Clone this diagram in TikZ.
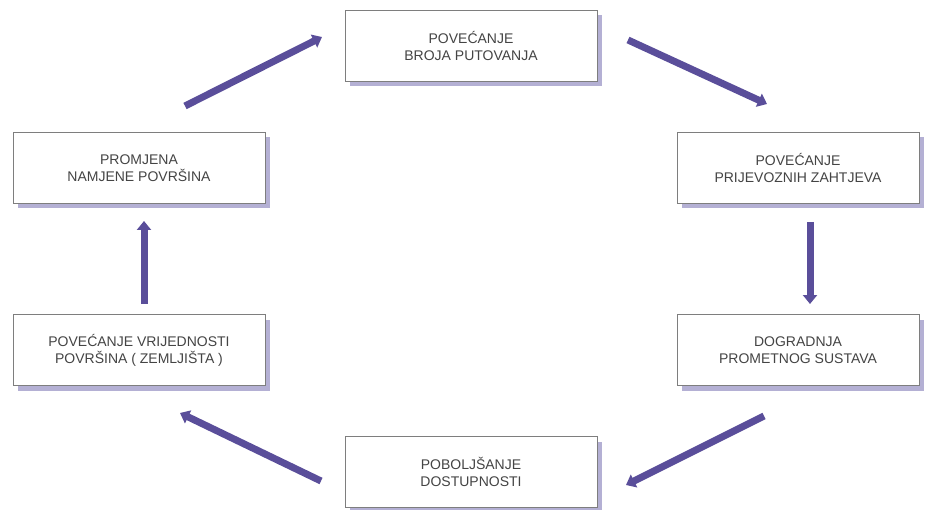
\documentclass[tikz,border=0pt]{standalone}
\usepackage{fontspec}
\setmainfont{Liberation Sans}
\usetikzlibrary{arrows.meta,shadows}
\definecolor{arrowc}{HTML}{5A4E9A}
\definecolor{shadowc}{HTML}{B4B0D4}
\definecolor{borderc}{HTML}{7E7E7E}
\definecolor{textc}{HTML}{444444}
\begin{document}
\begin{tikzpicture}[x=1pt,y=-1pt,
  box/.style={draw=borderc, line width=1pt, fill=white, minimum height=71pt,
    align=center, text=textc, font=\fontsize{14}{17}\selectfont,
    drop shadow={shadow xshift=5pt, shadow yshift=-5pt, fill=shadowc, opacity=1}},
  flow/.style={draw=arrowc, line width=7pt, -{Triangle[length=9pt,width=14pt]}}]
\useasboundingbox (0,0) rectangle (925,510);
\fill[white] (0,0) rectangle (925,510);
\node[box, minimum width=252pt] (top) at (471,46) {POVEĆANJE\\BROJA PUTOVANJA};
\node[box, minimum width=252pt] (lt) at (139,168) {PROMJENA\\NAMJENE POVRŠINA};
\node[box, minimum width=242pt] (rt) at (798,168) {POVEĆANJE\\PRIJEVOZNIH ZAHTJEVA};
\node[box, minimum width=252pt] (lb) at (139,350) {POVEĆANJE VRIJEDNOSTI\\POVRŠINA ( ZEMLJIŠTA )};
\node[box, minimum width=242pt] (rb) at (798,350) {DOGRADNJA\\PROMETNOG SUSTAVA};
\node[box, minimum width=252pt] (bot) at (471,472) {POBOLJŠANJE\\DOSTUPNOSTI};
\coordinate (a1s) at (185,106); \coordinate (a1e) at (322,37);
\coordinate (a2s) at (628,40); \coordinate (a2e) at (767,104);
\coordinate (a3s) at (810,222); \coordinate (a3e) at (810,304);
\coordinate (a4s) at (764,416); \coordinate (a4e) at (626,485);
\coordinate (a5s) at (321,481); \coordinate (a5e) at (180,413);
\coordinate (a6s) at (144,304); \coordinate (a6e) at (144,221);
\draw[flow] (a1s) -- (a1e);
\draw[flow] (a2s) -- (a2e);
\draw[flow] (a3s) -- (a3e);
\draw[flow] (a4s) -- (a4e);
\draw[flow] (a5s) -- (a5e);
\draw[flow] (a6s) -- (a6e);
\end{tikzpicture}
\end{document}
